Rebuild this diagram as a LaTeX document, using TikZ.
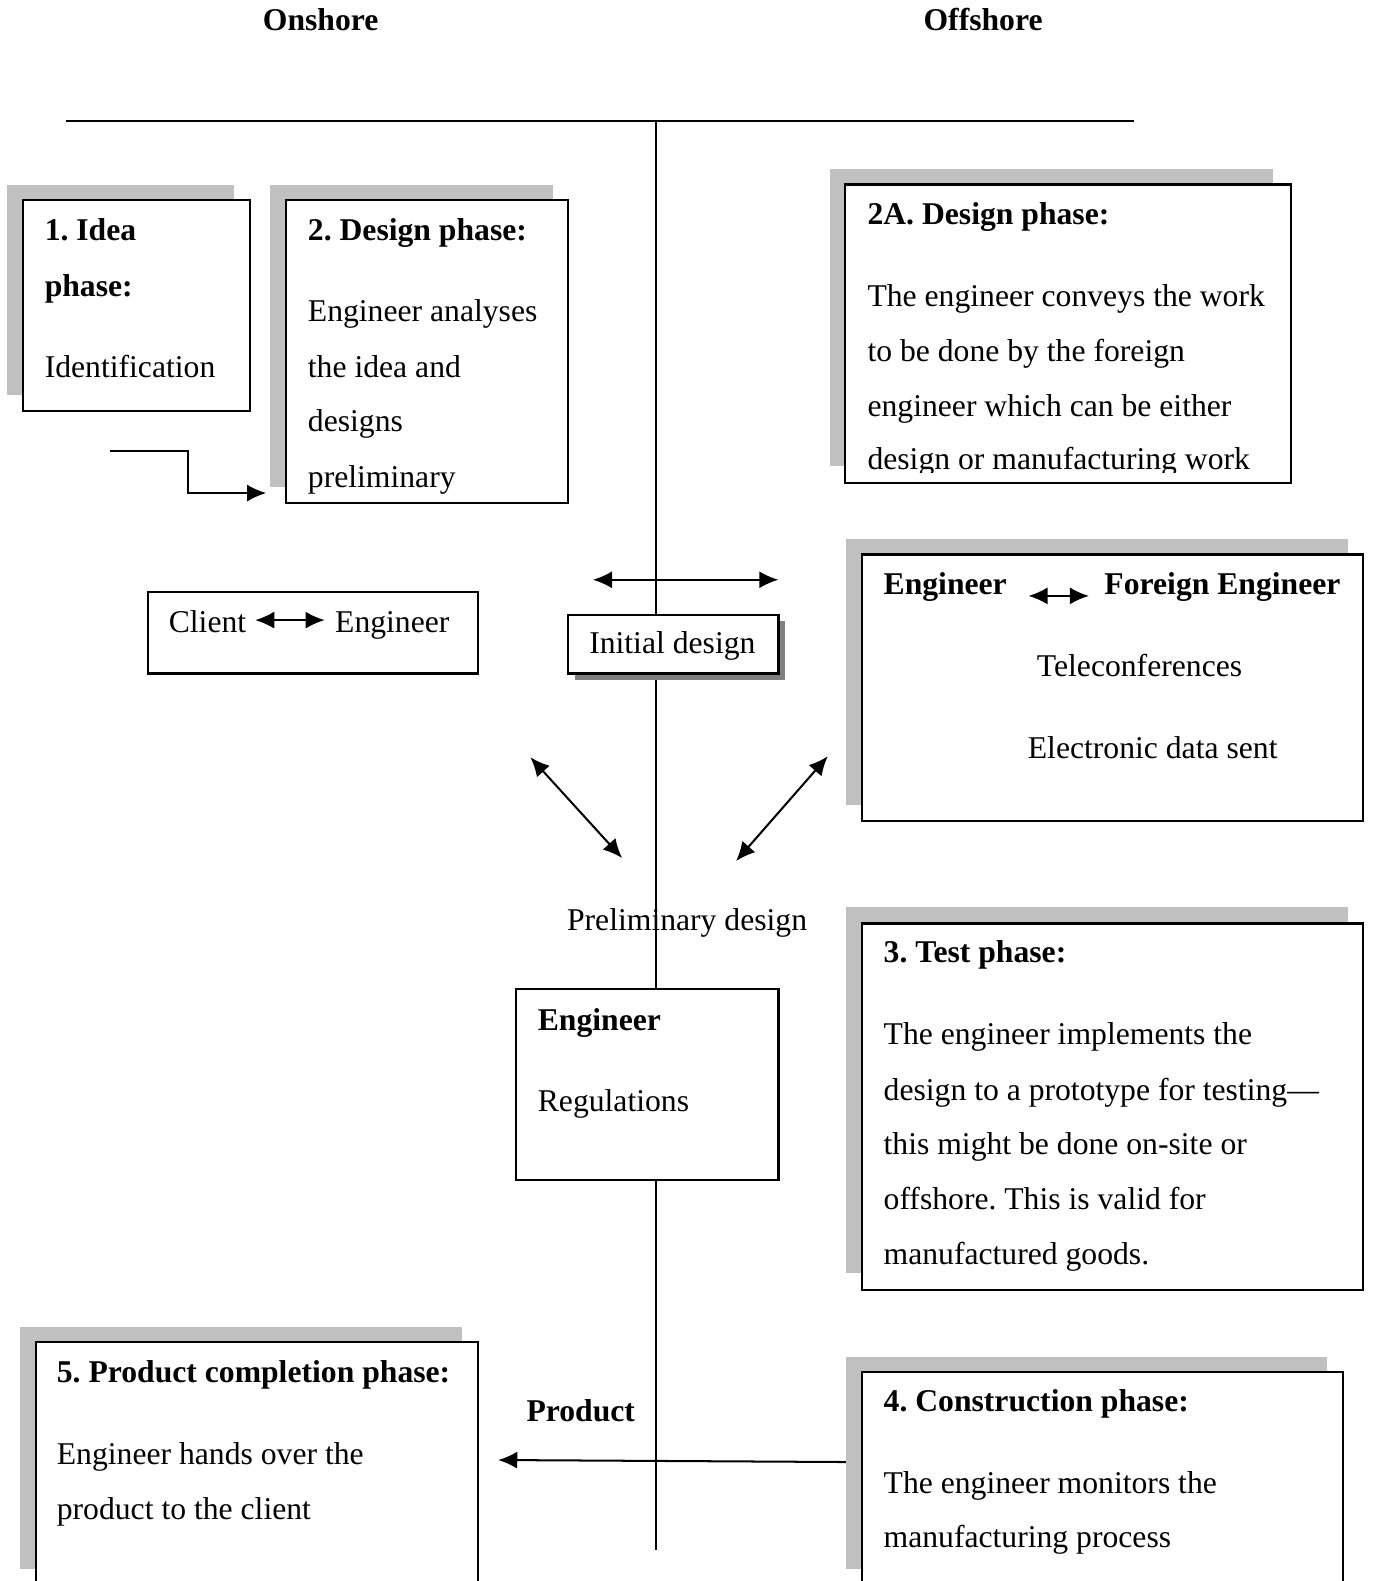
\documentclass[tikz,border=0pt]{standalone}
\usepackage{fontspec}
\setmainfont{Liberation Serif}
\usetikzlibrary{arrows.meta,fit}
\definecolor{shade}{HTML}{C0C0C0}
\definecolor{darkshade}{HTML}{808080}
\begin{document}
\frenchspacing
\begin{tikzpicture}[x=0.5pt,y=-0.5pt,
  font=\fontsize{15.7}{18}\selectfont,
  txt/.style={anchor=base west, inner sep=0pt},
  btxt/.style={txt, font=\fontsize{15.7}{18}\selectfont\bfseries},
  boxsty/.style={draw=black, line width=1.1pt, fill=white, inner sep=0pt},
  shadowsty/.style={fill=shade},
  ln/.style={line width=0.9pt},
  arr/.style={line width=1pt, -{Latex[length=9.5pt,width=8.5pt]}},
  darr/.style={line width=1pt, {Latex[length=9.5pt,width=8.5pt]}-{Latex[length=9.5pt,width=8.5pt]}}]
\useasboundingbox (0,0) rectangle (1361,1568);
\clip (0,0) rectangle (1361,1568);

% headings
\node[btxt, anchor=base] (on) at (318,30) {Onshore};
\node[btxt, anchor=base] (off) at (975,30) {Offshore};

% axis lines
\coordinate (hl) at (65,120);
\coordinate (hr) at (1125,120);
\coordinate (vt) at (651,120);
\coordinate (vb) at (651,1537);
\draw[ln] (hl) -- (hr);
\draw[ln] (vt) -- (vb);

% shadows
\fill[shadowsty] (7,183) rectangle (232,392);
\fill[shadowsty] (268,183) rectangle (548,483);
\fill[shadowsty] (823,168) rectangle (1263,462);
\fill[shadowsty] (839,535) rectangle (1337,798);
\fill[shadowsty] (839,900) rectangle (1337,1263);
\fill[shadowsty] (20,1316) rectangle (458,1556);
\fill[shadowsty] (839,1346) rectangle (1316,1556);
\fill[darkshade] (570,616) rectangle (779,674);

% boxes
\node[boxsty, fit={(23,198) (248,408)}] (b1) {};
\node[boxsty, fit={(284,198) (563,499)}] (b2) {};
\node[boxsty, fit={(838,183) (1280,479)}] (b2a) {};
\node[boxsty, fit={(147,587) (474,668)}] (bce) {};
\node[boxsty, fit={(563,610) (772,668)}] (bid) {};
\node[boxsty, fit={(855,550) (1352,814)}] (bef) {};
\node[boxsty, fit={(512,981) (772,1170)}] (ber) {};
\node[boxsty, fit={(855,916) (1352,1279)}] (b3) {};
\node[boxsty, fit={(36,1331) (474,1571)}] (b5) {};
\node[boxsty, fit={(855,1361) (1332,1571)}] (b4) {};

% box 1
\node[btxt] (b1h1) at (44,239) {1. Idea};
\node[btxt] (b1h2) at (44,294) {phase:};
\node[txt] (b1t1) at (44,374) {Identification};

% box 2
\node[btxt] (b2h) at (305,239) {2. Design phase:};
\node[txt] (b2t1) at (305,319) {Engineer analyses};
\node[txt] (b2t2) at (305,374) {the idea and};
\node[txt] (b2t3) at (305,428) {designs};
\node[txt] (b2t4) at (305,483) {preliminary};

% box 2A
\begin{scope}
\clip (838,183) rectangle (1280,468.5);
\node[btxt] (b2ah) at (860,223) {2A. Design phase:};
\node[txt] (b2at1) at (860,304) {The engineer conveys the work};
\node[txt] (b2at2) at (860,358.5) {to be done by the foreign};
\node[txt] (b2at3) at (860,413) {engineer which can be either};
\node[txt] (b2at4) at (860,466) {design or manufacturing work};
\end{scope}

% elbow arrow
\coordinate (e0) at (109,447);
\coordinate (e1) at (186,447);
\coordinate (e2) at (186,489);
\coordinate (e3) at (264,489);
\draw[arr] (e0) -- (e1) -- (e2) -- (e3);

% client engineer
\node[txt] (cl) at (167,627) {Client};
\node[txt] (ce) at (332,627) {Engineer};
\coordinate (ca) at (253,615);
\coordinate (cb) at (322,615);
\draw[darr] (ca) -- (cb);

% initial design
\node[txt] (idt) at (584,648) {Initial design};
\coordinate (ia) at (588,575);
\coordinate (ib) at (772,575);
\draw[darr] (ia) -- (ib);

% engineer foreign engineer
\node[btxt] (efa) at (876,590) {Engineer};
\node[btxt] (efb) at (1095,590) {Foreign Engineer};
\coordinate (fa) at (1020,591);
\coordinate (fb) at (1080,591);
\draw[darr] (fa) -- (fb);
\node[txt] (tel) at (1028,671) {Teleconferences};
\node[txt] (eds) at (1019,752) {Electronic data sent};

% diagonal arrows
\coordinate (d1a) at (526,751);
\coordinate (d1b) at (617,851);
\coordinate (d2a) at (821,750);
\coordinate (d2b) at (730,854);
\draw[darr] (d1a) -- (d1b);
\draw[darr] (d2a) -- (d2b);

\node[txt] (prel) at (562,923) {Preliminary design};

% engineer regulations
\node[btxt] (erh) at (533,1022) {Engineer};
\node[txt] (ert) at (533,1102) {Regulations};

% box 3
\node[btxt] (b3h) at (876,955) {3. Test phase:};
\node[txt] (b3t1) at (876,1036) {The engineer implements the};
\node[txt] (b3t2) at (876,1091) {design to a prototype for testing—};
\node[txt] (b3t3) at (876,1145) {this might be done on-site or};
\node[txt] (b3t4) at (876,1200) {offshore. This is valid for};
\node[txt] (b3t5) at (876,1254) {manufactured goods.};

% box 5
\node[btxt] (b5h) at (56,1371) {5. Product completion phase:};
\node[txt] (b5t1) at (56,1452) {Engineer hands over the};
\node[txt] (b5t2) at (56,1507) {product to the client};

% box 4
\node[btxt] (b4h) at (876,1400) {4. Construction phase:};
\node[txt] (b4t1) at (876,1481) {The engineer monitors the};
\node[txt] (b4t2) at (876,1535) {manufacturing process};

% product
\node[btxt, anchor=base] (prod) at (576,1410) {Product};
\coordinate (pa) at (839,1450);
\coordinate (pb) at (494,1448);
\draw[arr] (pa) -- (pb);
\end{tikzpicture}
\end{document}
